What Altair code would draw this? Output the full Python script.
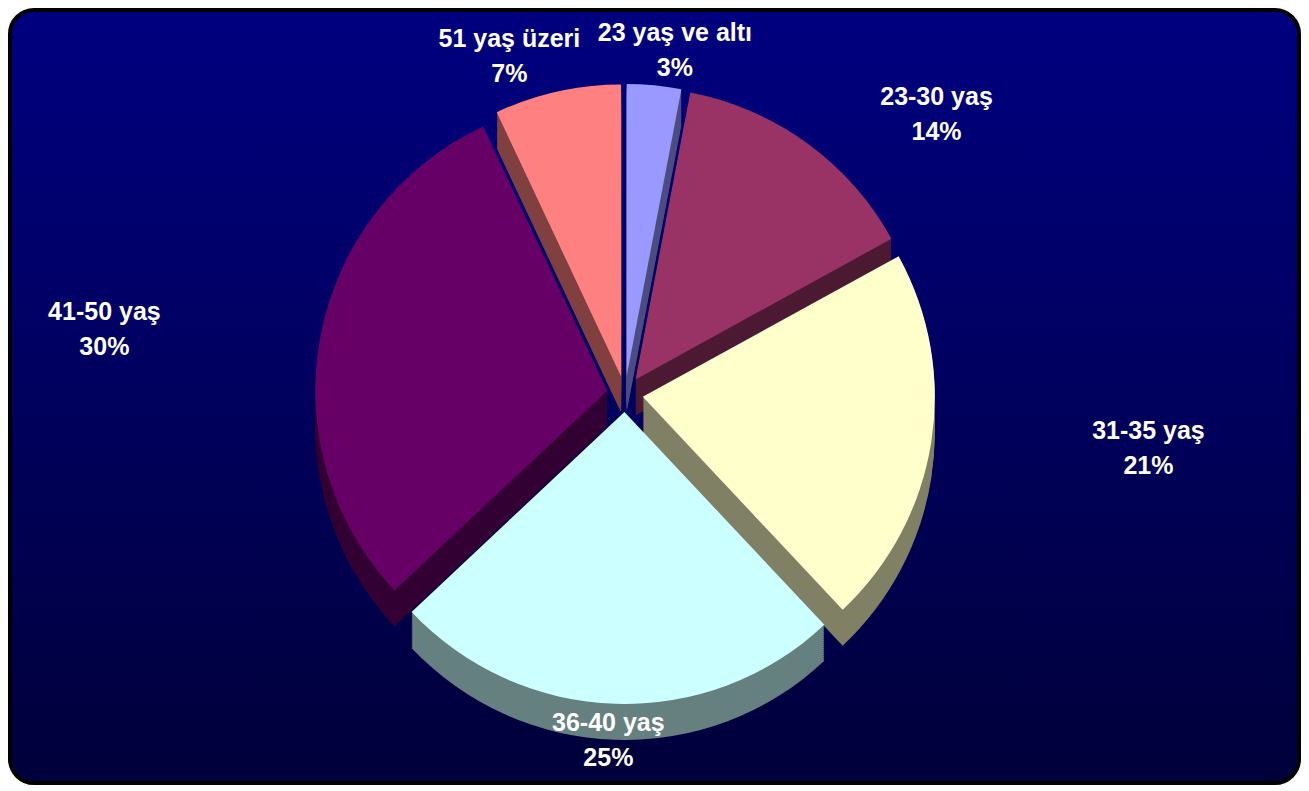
import altair as alt
import pandas as pd

labels = ["23 yaş ve altı", "23-30 yaş", "31-35 yaş", "36-40 yaş", "41-50 yaş", "51 yaş üzeri"]
values = [3, 14, 21, 25, 30, 7]
pct_text = ["3%", "14%", "21%", "25%", "30%", "7%"]
top_colors = ["#9999FF", "#993366", "#FFFFCC", "#CCFFFF", "#660066", "#FF8080"]
side_colors = ["#4D4D80", "#4D1A33", "#808066", "#668080", "#330033", "#804040"]

W, H = 1293, 777
CX, CY = 617, 386
R = 292
EXPLODE = 18
DEPTH = 36
LX, LY = 530, 346

df = pd.DataFrame({
    "label": labels,
    "value": values,
    "idx": list(range(len(labels))),
    "text": [f"{l}\n{p}" for l, p in zip(labels, pct_text)],
})

base = alt.Chart(df).transform_window(
    cum="sum(value)", sort=[alt.SortField("idx")], frame=[None, 0]
).transform_joinaggregate(
    total="sum(value)"
).transform_calculate(
    mid="(datum.cum - datum.value / 2) / datum.total * 2 * PI",
    side_label="datum.label",
)

bg = alt.Chart(pd.DataFrame({"a": [0]})).mark_rect(
    cornerRadius=24,
    stroke="black",
    strokeWidth=4,
    fill=alt.Gradient(
        gradient="linear",
        x1=0, x2=0, y1=0, y2=1,
        stops=[
            alt.GradientStop(color="#000080", offset=0),
            alt.GradientStop(color="#00005E", offset=0.5),
            alt.GradientStop(color="#00003A", offset=1),
        ],
    ),
).encode(
    x=alt.value(2), x2=alt.value(W - 2), y=alt.value(2), y2=alt.value(H - 2)
)

color_top = alt.Color("label:N", scale=alt.Scale(domain=labels, range=top_colors), legend=None)
color_side = alt.Color("side_label:N", scale=alt.Scale(domain=labels, range=side_colors), legend=None)

layers = [bg]
for d in range(DEPTH, 0, -2):
    side = base.transform_calculate(
        px=f"{CX} + {EXPLODE} * sin(datum.mid)",
        py=f"{CY} - {EXPLODE} * cos(datum.mid) + {d}",
    ).mark_arc(radius=R, stroke=None).encode(
        theta=alt.Theta("value:Q", stack=True),
        order=alt.Order("idx:Q"),
        color=color_side,
        x=alt.X("px:Q", scale=None),
        y=alt.Y("py:Q", scale=None),
    )
    layers.append(side)

top = base.transform_calculate(
    px=f"{CX} + {EXPLODE} * sin(datum.mid)",
    py=f"{CY} - {EXPLODE} * cos(datum.mid)",
).mark_arc(radius=R, stroke=None).encode(
    theta=alt.Theta("value:Q", stack=True),
    order=alt.Order("idx:Q"),
    color=color_top,
    x=alt.X("px:Q", scale=None),
    y=alt.Y("py:Q", scale=None),
)
layers.append(top)

text = base.transform_calculate(
    tx=f"{CX} + {LX} * sin(datum.mid)",
    ty=f"{CY} - {LY} * cos(datum.mid) - 17",
).mark_text(
    font="Liberation Sans",
    fontWeight="bold",
    fontSize=25,
    color="white",
    lineBreak="\n",
    lineHeight=35,
    align="center",
    baseline="middle",
).encode(
    x=alt.X("tx:Q", scale=None),
    y=alt.Y("ty:Q", scale=None),
    text="text:N",
)
layers.append(text)

chart = alt.layer(*layers).resolve_scale(color="independent").properties(
    width=W, height=H, padding=0, background="white",
    autosize=alt.AutoSizeParams(type="none"),
).configure_view(stroke=None)

chart.save("out.html", embed_options={"renderer": "svg", "actions": False})
